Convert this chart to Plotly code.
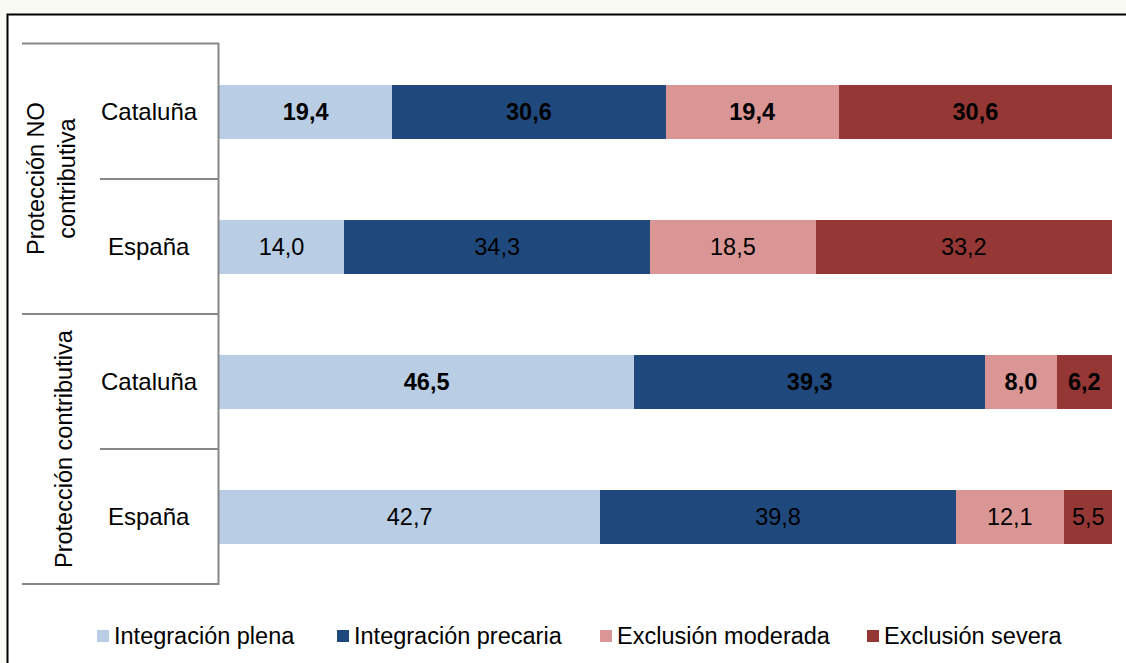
import plotly.graph_objects as go

# ---- data ----
groups = ["Protección NO<br>contributiva", "Protección contributiva"]
regions = ["Cataluña", "España", "Cataluña", "España"]
series_names = ["Integración plena", "Integración precaria", "Exclusión moderada", "Exclusión severa"]
integracion_plena = [19.4, 14.0, 46.5, 42.7]
integracion_precaria = [30.6, 34.3, 39.3, 39.8]
exclusion_moderada = [19.4, 18.5, 8.0, 12.1]
exclusion_severa = [30.6, 33.2, 6.2, 5.5]
bold_rows = [True, False, True, False]

colors = ["#B9CDE5", "#1F497D", "#D99694", "#953735"]
series = [integracion_plena, integracion_precaria, exclusion_moderada, exclusion_severa]

W, H = 1126, 663
L, R, T, B = 219, 1112, 44, 584
FONT = "Liberation Sans, Arial, sans-serif"


def px(x):
    return (x - L) / (R - L)


def py(y):
    return (B - y) / (B - T)


fig = go.Figure()
ypos = list(range(len(regions)))
for name, vals, col in zip(series_names, series, colors):
    txt = []
    for v, b in zip(vals, bold_rows):
        s = f"{v:.1f}".replace(".", ",")
        txt.append(f"<b>{s}</b>" if b else s)
    fig.add_trace(go.Bar(
        y=ypos, x=vals, orientation="h", name=name,
        marker=dict(color=col, line=dict(width=0)),
        width=0.4, text=txt, textposition="inside",
        insidetextanchor="middle",
        textfont=dict(family=FONT, size=23.5, color="black"),
        showlegend=False, hoverinfo="x+name",
    ))

shapes = []
# white inner frame with black border
shapes.append(dict(type="rect", xref="paper", yref="paper",
                   x0=px(7.5), x1=px(W + 10), y0=py(14.5), y1=py(H + 10),
                   fillcolor="white", line=dict(color="black", width=2), layer="below"))
grey = "#878787"
# axis line
shapes.append(dict(type="line", xref="paper", yref="paper",
                   x0=px(218.5), x1=px(218.5), y0=py(43), y1=py(585),
                   line=dict(color=grey, width=2)))
# horizontal separators
for yy, x0 in [(43.5, 22), (179, 100), (314, 22), (449, 100), (584, 22)]:
    shapes.append(dict(type="line", xref="paper", yref="paper",
                       x0=px(x0), x1=px(219), y0=py(yy), y1=py(yy),
                       line=dict(color=grey, width=2)))

annotations = []
for i, r in enumerate(regions):
    annotations.append(dict(x=px(149), y=i, xref="paper", yref="y", text=r,
                            showarrow=False, xanchor="center", yanchor="middle",
                            font=dict(family=FONT, size=24, color="black")))
annotations.append(dict(x=px(51), y=py(179), xref="paper", yref="paper", text=groups[0],
                        showarrow=False, textangle=-90, xanchor="center", yanchor="middle",
                        font=dict(family=FONT, size=23.5, color="black")))
annotations.append(dict(x=px(64), y=py(449), xref="paper", yref="paper", text=groups[1],
                        showarrow=False, textangle=-90, xanchor="center", yanchor="middle",
                        font=dict(family=FONT, size=23.5, color="black")))

# manual legend
leg_x = [97, 337, 600, 867]
for name, col, lx in zip(series_names, colors, leg_x):
    shapes.append(dict(type="rect", xref="paper", yref="paper",
                       x0=px(lx), x1=px(lx + 12), y0=py(630), y1=py(642),
                       fillcolor=col, line=dict(width=0)))
    annotations.append(dict(x=px(lx + 15), y=py(636), xref="paper", yref="paper", text=name,
                            showarrow=False, xanchor="left", yanchor="middle",
                            font=dict(family=FONT, size=23.5, color="black")))

fig.update_layout(
    width=W, height=H,
    margin=dict(l=L, r=W - R, t=T, b=H - B, pad=0),
    barmode="stack",
    paper_bgcolor="#f8faf3", plot_bgcolor="rgba(0,0,0,0)",
    xaxis=dict(range=[0, 100], visible=False, fixedrange=True),
    yaxis=dict(range=[3.5, -0.5], visible=False, fixedrange=True),
    shapes=shapes, annotations=annotations,
    uniformtext=dict(minsize=23, mode="show"),
    showlegend=False,
)

fig.write_html("out.html", config={"displayModeBar": False},
               post_script="document.body.style.margin='0';document.body.style.overflow='hidden';")
